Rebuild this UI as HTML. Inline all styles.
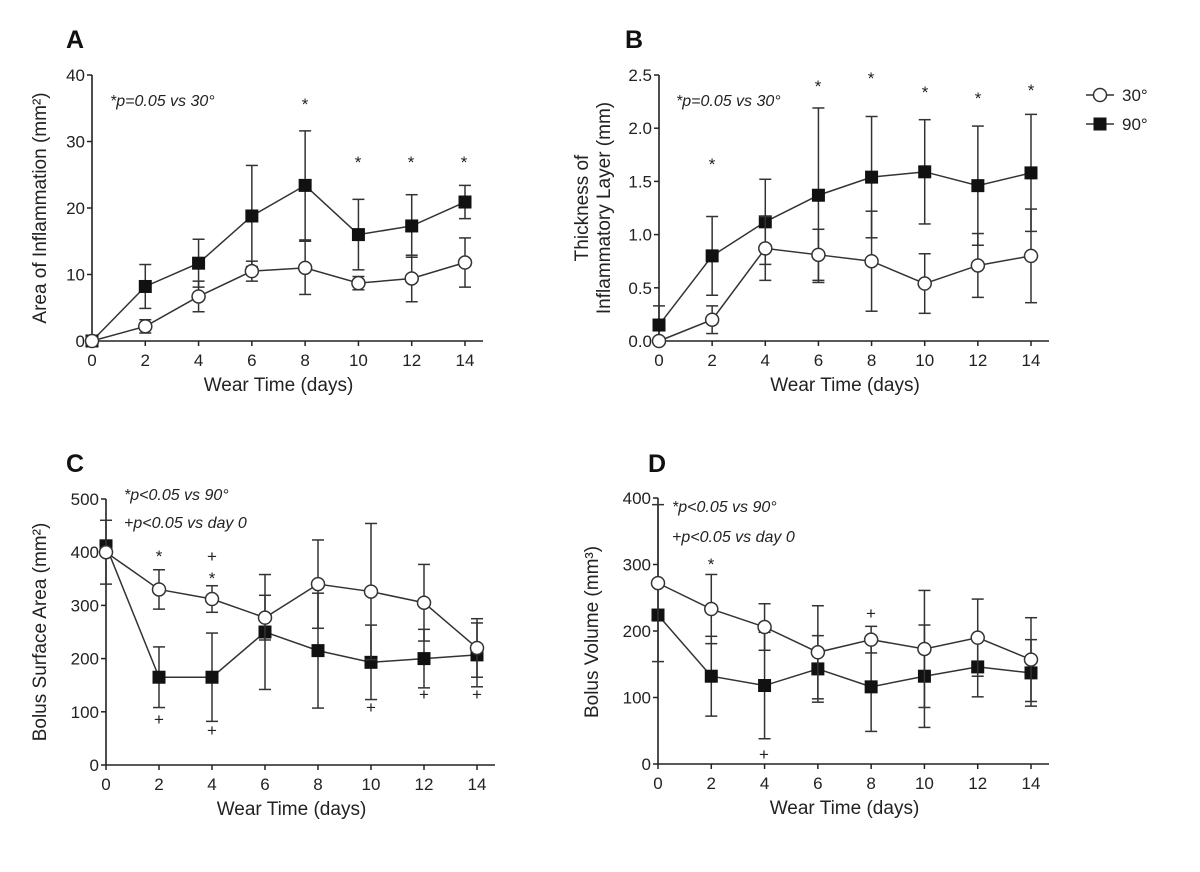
<!DOCTYPE html>
<html><head><meta charset="utf-8">
<style>
body{margin:0;background:#fff;}
svg{display:block;font-family:"Liberation Sans",Arial,sans-serif;}
</style></head>
<body>
<svg id="fig" width="1200" height="872" viewBox="0 0 1200 872" xmlns="http://www.w3.org/2000/svg"></svg>
<script>
const days=[0,2,4,6,8,10,12,14];
// Panel A: area of inflammation
const a30=[0,2.2,6.7,10.5,11,8.7,9.4,11.8];
const a30e=[0,1,2.3,1.5,4,1,3.5,3.7];
const a90=[0,8.2,11.7,18.8,23.4,16,17.3,20.9];
const a90e=[0,3.3,3.6,7.6,8.2,5.3,4.7,2.5];
// Panel B: thickness
const b30=[0,0.2,0.87,0.81,0.75,0.54,0.71,0.8];
const b30e=[0,0.13,0.3,0.24,0.47,0.28,0.3,0.44];
const b90=[0.15,0.8,1.12,1.37,1.54,1.59,1.46,1.58];
const b90e=[0.18,0.37,0.4,0.82,0.57,0.49,0.56,0.55];
// Panel C: surface area
const c30=[400,330,312,277,340,326,305,220];
const c30e=[60,37,25,42,83,128,72,55];
const c90=[412,165,165,250,215,193,200,207];
const c90e=[0,57,83,108,108,70,55,60];
// Panel D: volume
const d30=[272,233,206,168,187,173,190,157];
const d30e=[118,52,35,70,20,88,58,63];
const d90=[224,132,118,143,116,132,146,137];
const d90e=[0,60,80,50,67,77,45,50];

const NS="http://www.w3.org/2000/svg";
const svg=document.getElementById('fig');
function el(tag,attrs,parent,text){
  const e=document.createElementNS(NS,tag);
  for(const k in attrs)e.setAttribute(k,attrs[k]);
  if(text!==undefined)e.textContent=text;
  (parent||svg).appendChild(e);return e;
}
function panel(cfg){
  const g=el('g',{});
  
  
  const X=d=>cfg.x0+(cfg.x1-cfg.x0)*d/14;
  const Y=v=>cfg.y0-(cfg.y0-cfg.y1)*v/cfg.ymax;
  const ax=el('line',{x1:cfg.x0,y1:cfg.y0,x2:cfg.x1+18,y2:cfg.y0,stroke:'#222','stroke-width':1.6},g);
  
  const ay=el('line',{x1:cfg.x0,y1:cfg.y0,x2:cfg.x0,y2:cfg.y1,stroke:'#222','stroke-width':1.6},g);
  
  days.forEach(d=>{
    el('line',{x1:X(d),y1:cfg.y0,x2:X(d),y2:cfg.y0+5,stroke:'#222','stroke-width':1.5},g);
    const t=el('text',{x:X(d),y:cfg.y0+25,'font-size':17,'text-anchor':'middle',fill:'#222'},g,String(d));
    
  });
  cfg.yticks.forEach((v,i)=>{
    el('line',{x1:cfg.x0-5,y1:Y(v),x2:cfg.x0,y2:Y(v),stroke:'#222','stroke-width':1.5},g);
    const t=el('text',{x:cfg.x0-7,y:Y(v)+6,'font-size':17,'text-anchor':'end',fill:'#222'},g,cfg.ylabels[i]);
    
  });
  const xt=el('text',{x:(cfg.x0+cfg.x1)/2,y:cfg.y0+50,'font-size':19,'text-anchor':'middle',fill:'#222'},g,'Wear Time (days)');
  
  cfg.ytitle(g);
  const lt=el('text',{x:cfg.lx,y:cfg.ly,'font-size':25,'font-weight':'bold',fill:'#111'},g,cfg.id);
  
  [[cfg.s90,cfg.e90,'sq'],[cfg.s30,cfg.e30,'ci']].forEach(([s,e,m])=>{
    const sg=el('g',{},g);
    
    
    s.forEach((v,i)=>{
      if(e[i]>0){
        const lo=Math.max(0,v-e[i]),hi=v+e[i];
        el('line',{x1:X(days[i]),y1:Y(lo),x2:X(days[i]),y2:Y(hi),stroke:'#333','stroke-width':1.5},sg);
        el('line',{x1:X(days[i])-6,y1:Y(lo),x2:X(days[i])+6,y2:Y(lo),stroke:'#333','stroke-width':1.5},sg);
        el('line',{x1:X(days[i])-6,y1:Y(hi),x2:X(days[i])+6,y2:Y(hi),stroke:'#333','stroke-width':1.5},sg);
      }
    });
    el('polyline',{points:s.map((v,i)=>X(days[i])+','+Y(v)).join(' '),fill:'none',stroke:'#333','stroke-width':1.5},sg);
    s.forEach((v,i)=>{
      let p;
      if(m==='sq')p=el('rect',{x:X(days[i])-6.5,y:Y(v)-6.5,width:13,height:13,fill:'#111'},sg);
      else p=el('circle',{cx:X(days[i]),cy:Y(v),r:6.5,fill:'#fff',stroke:'#333','stroke-width':1.5},sg);
      
    });
  });
  cfg.notes.forEach(n=>{
    const t=el('text',{x:n[0],y:n[1],'font-size':n[3]||17,'font-style':n[4]||'normal','text-anchor':n[5]||'middle',fill:'#222'},g,n[2]);
    
  });
}
function rotTitle(g,x,y,lines){
  const t=el('text',{transform:`translate(${x},${y}) rotate(-90)`,'font-size':19,'text-anchor':'middle',fill:'#222'},g);
  
  lines.forEach((l,i)=>{
    el('tspan',{x:0,dy:i?22:0},t,l);
  });
  return t;
}
panel({id:'A',x0:92,x1:465,y0:341,y1:75,ymax:40,yticks:[0,10,20,30,40],ylabels:['0','10','20','30','40'],
  s30:a30,e30:a30e,s90:a90,e90:a90e,lx:66,ly:48,
  ytitle:g=>rotTitle(g,46,208,['Area of Inflammation (mm\u00B2)']),
  notes:[[110,106,'*p=0.05 vs 30°',16,'italic','start'],[305,110,'*'],[358,168,'*'],[411,168,'*'],[464,168,'*']]});
panel({id:'B',x0:659,x1:1031,y0:341,y1:75,ymax:2.5,yticks:[0,0.5,1,1.5,2,2.5],ylabels:['0.0','0.5','1.0','1.5','2.0','2.5'],
  s30:b30,e30:b30e,s90:b90,e90:b90e,lx:625,ly:48,
  ytitle:g=>rotTitle(g,588,208,['Thickness of','Inflammatory Layer (mm)']),
  notes:[[676,106,'*p=0.05 vs 30°',16,'italic','start'],[712,170,'*'],[818,92,'*'],[871,84,'*'],[925,98,'*'],[978,104,'*'],[1031,96,'*']]});
panel({id:'C',x0:106,x1:477,y0:765,y1:499,ymax:500,yticks:[0,100,200,300,400,500],ylabels:['0','100','200','300','400','500'],
  s30:c30,e30:c30e,s90:c90,e90:c90e,lx:66,ly:472,
  ytitle:g=>rotTitle(g,46,632,['Bolus Surface Area (mm\u00B2)']),
  notes:[[124,500,'*p<0.05 vs 90°',16,'italic','start'],[124,528,'+p<0.05 vs day 0',16,'italic','start'],
   [159,562,'*'],[212,562,'+'],[212,584,'*'],[159,725,'+'],[212,736,'+'],[371,713,'+'],[424,700,'+'],[477,700,'+']]});
panel({id:'D',x0:658,x1:1031,y0:764,y1:498,ymax:400,yticks:[0,100,200,300,400],ylabels:['0','100','200','300','400'],
  s30:d30,e30:d30e,s90:d90,e90:d90e,lx:648,ly:472,
  ytitle:g=>rotTitle(g,598,632,['Bolus Volume (mm\u00B3)']),
  notes:[[672,512,'*p<0.05 vs 90°',16,'italic','start'],[672,542,'+p<0.05 vs day 0',16,'italic','start'],
   [711,570,'*'],[764,760,'+'],[871,619,'+']]});
const lg=el('g',{});


const l1=el('g',{},lg);


el('line',{x1:1086,y1:95,x2:1114,y2:95,stroke:'#333','stroke-width':1.5},l1);
el('circle',{cx:1100,cy:95,r:6.5,fill:'#fff',stroke:'#333','stroke-width':1.5},l1);
el('text',{x:1122,y:101,'font-size':17,fill:'#222'},l1,'30°');
const l2=el('g',{},lg);


el('line',{x1:1086,y1:124,x2:1114,y2:124,stroke:'#333','stroke-width':1.5},l2);
el('rect',{x:1093.5,y:117.5,width:13,height:13,fill:'#111'},l2);
el('text',{x:1122,y:130,'font-size':17,fill:'#222'},l2,'90°');
</script>
</body></html>
